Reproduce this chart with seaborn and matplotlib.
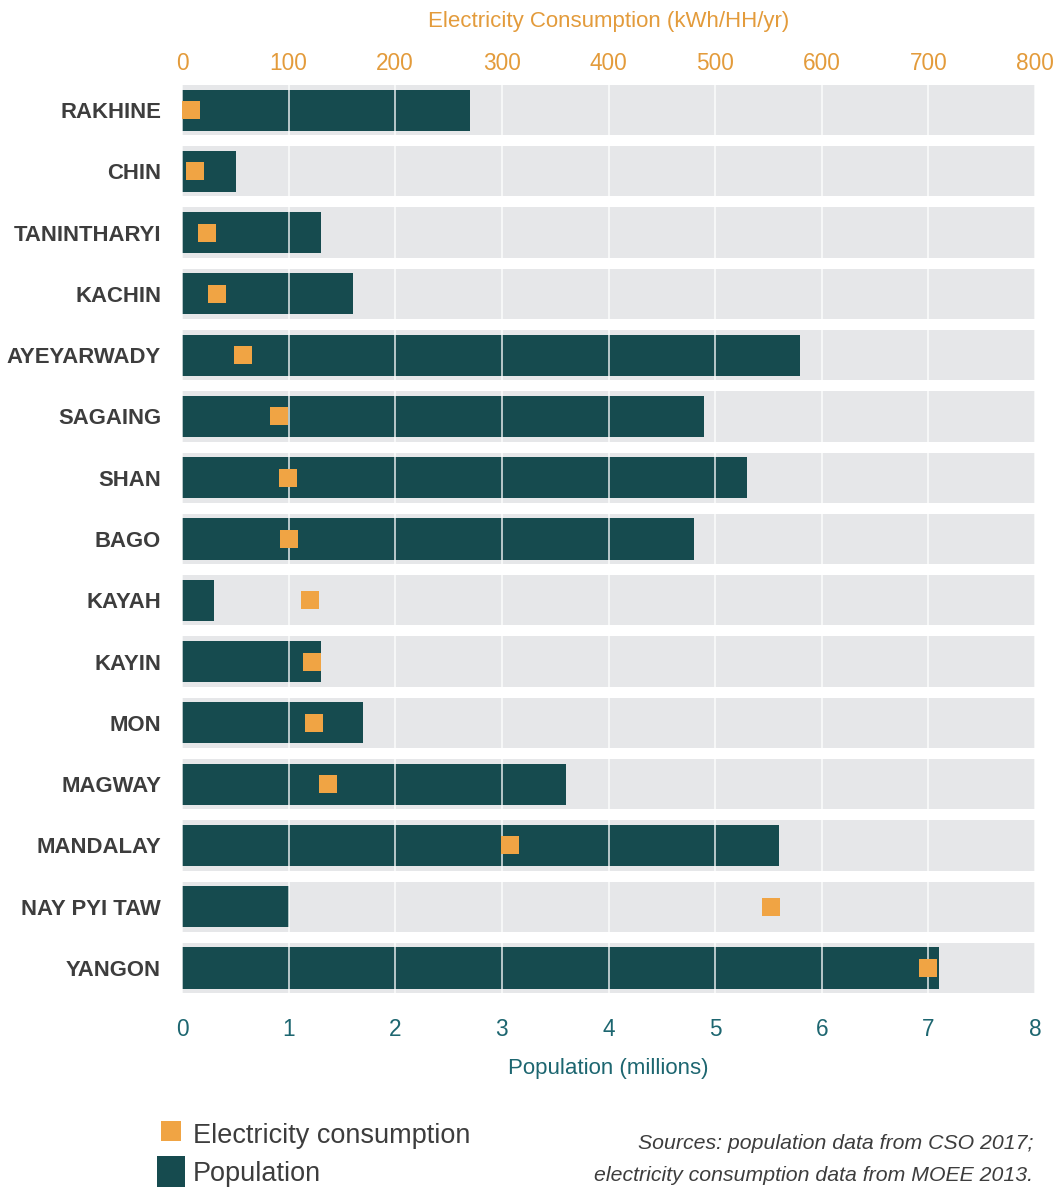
import numpy as np
import pandas as pd
import matplotlib
matplotlib.use("Agg")
import matplotlib.pyplot as plt
import seaborn as sns
from matplotlib.patches import Patch
from matplotlib.lines import Line2D

# ---------------- data ----------------
regions = ["RAKHINE", "CHIN", "TANINTHARYI", "KACHIN", "AYEYARWADY", "SAGAING",
           "SHAN", "BAGO", "KAYAH", "KAYIN", "MON", "MAGWAY", "MANDALAY",
           "NAY PYI TAW", "YANGON"]
population = [2.7, 0.51, 1.3, 1.6, 5.8, 4.9, 5.3, 4.8, 0.3, 1.3, 1.7, 3.6, 5.6, 1.0, 7.1]
electricity = [8, 12, 23, 33, 57, 91, 99, 100, 120, 122, 124, 137, 308, 552, 700]
pop_ticks = [0, 1, 2, 3, 4, 5, 6, 7, 8]
elec_ticks = [0, 100, 200, 300, 400, 500, 600, 700, 800]

TEAL = "#164b4f"
ORANGE = "#f0a444"
BAND = "#e6e7e9"
LABEL_TEAL = "#1d6670"
LABEL_ORANGE = "#e39b3b"
DARK = "#3d3d3d"

sns.set_theme(style="white")
plt.rcParams["font.family"] = ["Liberation Sans", "DejaVu Sans"]

df = pd.DataFrame({"region": regions, "population": population,
                   "electricity": electricity})
df["band"] = pop_ticks[-1]
df["pos"] = np.arange(len(df))

fig = plt.figure(figsize=(10.63, 11.87), dpi=100)
ax = fig.add_axes([0.1712, 0.1587, 0.8025, 0.7744])

sns.barplot(data=df, x="band", y="region", color=BAND, width=0.82,
            saturation=1, linewidth=0, ax=ax, zorder=1)
sns.barplot(data=df, x="population", y="region", color=TEAL, width=0.67,
            saturation=1, linewidth=0, ax=ax, zorder=2)

ax.set_xlim(pop_ticks[0], pop_ticks[-1])
ax.set_xticks(pop_ticks)
ax.set_ylim(len(df) - 0.5, -0.5)
ax.set_axisbelow(False)
ax.grid(axis="x", color="white", linewidth=1.3, alpha=0.75)
ax.grid(axis="y", visible=False)
for s in ax.spines.values():
    s.set_visible(False)
ax.tick_params(axis="x", labelcolor=LABEL_TEAL, labelsize=16.3, length=0, pad=14)
ax.tick_params(axis="y", labelcolor=DARK, labelsize=15.9, length=0, pad=15)
for t in ax.get_yticklabels():
    t.set_fontweight("bold")
ax.set_ylabel("")
ax.set_xlabel("Population (millions)", color=LABEL_TEAL, fontsize=16, labelpad=12)

ax2 = ax.twiny()
sns.scatterplot(data=df, x="electricity", y="pos", marker="s", s=175,
                color=ORANGE, linewidth=0, ax=ax2, zorder=3, legend=False)
ax2.set_xlim(elec_ticks[0], elec_ticks[-1])
ax2.set_xticks(elec_ticks)
ax2.set_ylim(len(df) - 0.5, -0.5)
for s in ax2.spines.values():
    s.set_visible(False)
ax2.tick_params(axis="x", labelcolor=LABEL_ORANGE, labelsize=16.3, length=0, pad=3)
ax2.set_ylabel("")
ax2.set_xlabel("Electricity Consumption (kWh/HH/yr)", color=LABEL_ORANGE,
               fontsize=16, labelpad=18)
ax2.grid(False)

handles = [Line2D([], [], marker="s", linestyle="none", markersize=14.5,
                  markerfacecolor=ORANGE, markeredgewidth=0),
           Patch(facecolor=TEAL, edgecolor="none")]
fig.legend(handles, ["Electricity consumption", "Population"],
           loc="upper left", bbox_to_anchor=(0.1477, 0.058), frameon=False,
           fontsize=19.5, labelcolor=DARK, handlelength=1.02, handleheight=1.45,
           handletextpad=0.3, labelspacing=0.2, borderpad=0, borderaxespad=0)

fig.text(0.9718, 0.0365, "Sources: population data from CSO 2017;", ha="right",
         va="center", style="italic", color=DARK, fontsize=15.3)
fig.text(0.9718, 0.0095, "electricity consumption data from MOEE 2013.", ha="right",
         va="center", style="italic", color=DARK, fontsize=15.3)

fig.savefig("out.png", dpi=100)
